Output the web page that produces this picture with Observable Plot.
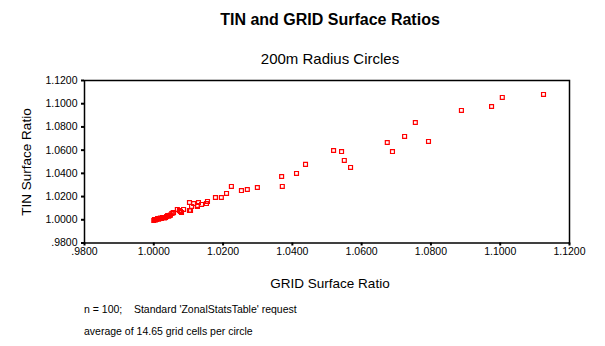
<!DOCTYPE html>
<html>
<head>
<meta charset="utf-8">
<script src="https://cdn.jsdelivr.net/npm/d3@7"></script>
<script src="https://cdn.jsdelivr.net/npm/@observablehq/plot@0.6"></script>
<style>
  html, body { margin: 0; padding: 0; background: #fff; overflow: hidden; }
  #wrap { position: relative; width: 605px; height: 346px; font-family: "Liberation Sans", Arial, sans-serif; color: #000; }
  #wrap svg { position: absolute; left: 0; top: 0; }
  .t { position: absolute; white-space: nowrap; line-height: 1; }
</style>
</head>
<body>
<div id="wrap">
  <div class="t" id="title" style="left:30px;width:600px;text-align:center;top:12px;font-size:16px;font-weight:bold;">TIN and GRID Surface Ratios</div>
  <div class="t" id="subtitle" style="left:30px;width:600px;text-align:center;top:51px;font-size:15px;">200m Radius Circles</div>
  <div class="t" id="xlabel" style="left:30px;width:600px;text-align:center;top:277px;font-size:13.5px;">GRID Surface Ratio</div>
  <div class="t" id="ylabel" style="left:27px;top:162px;font-size:13.5px;transform:translate(-50%,-50%) rotate(-90deg);">TIN Surface Ratio</div>
  <div class="t" id="note1" style="left:84px;top:304px;font-size:10.5px;">n = 100;&nbsp;&nbsp;&nbsp;&nbsp;Standard 'ZonalStatsTable' request</div>
  <div class="t" id="note2" style="left:84px;top:326px;font-size:10.5px;">average of 14.65 grid cells per circle</div>
</div>
<script>
// GRID surface ratio (x) and TIN surface ratio (y)
const gridRatio = [
  1.0000, 1.0002, 1.0005, 1.0008, 1.0011, 1.0014, 1.0017, 1.0019, 1.0022, 1.0025,
  1.0028, 1.0031, 1.0034, 1.0037, 1.0040, 1.0043, 1.0045, 1.0048, 1.0052, 1.0057,
  1.0055, 1.0068, 1.0074, 1.0077, 1.0080, 1.0086, 1.0103, 1.0106, 1.0103, 1.0109,
  1.0115, 1.0126, 1.0129, 1.0138, 1.0126, 1.0152, 1.0155, 1.0178, 1.0195, 1.0210,
  1.0224, 1.0253, 1.0270, 1.0299, 1.0369, 1.0371, 1.0412, 1.0438, 1.0519, 1.0542,
  1.0550, 1.0568, 1.0674, 1.0689, 1.0724, 1.0755, 1.0793, 1.0888, 1.0975, 1.1006,
  1.1125
];
const tinRatio = [
  0.9994, 1.0003, 0.9998, 1.0003, 1.0011, 1.0006, 1.0011, 1.0014, 1.0011, 1.0020,
  1.0020, 1.0016, 1.0020, 1.0028, 1.0037, 1.0031, 1.0037, 1.0040, 1.0054, 1.0063,
  1.0058, 1.0089, 1.0080, 1.0071, 1.0063, 1.0089, 1.0080, 1.0080, 1.0149, 1.0115,
  1.0140, 1.0123, 1.0149, 1.0132, 1.0115, 1.0140, 1.0158, 1.0192, 1.0192, 1.0227,
  1.0287, 1.0252, 1.0261, 1.0278, 1.0373, 1.0287, 1.0399, 1.0477, 1.0597, 1.0588,
  1.0511, 1.0451, 1.0666, 1.0588, 1.0718, 1.0838, 1.0675, 1.0942, 1.0976, 1.1054,
  1.1080
];
const xTicks = [0.98, 1.00, 1.02, 1.04, 1.06, 1.08, 1.10, 1.12];
const yTicks = [0.98, 1.00, 1.02, 1.04, 1.06, 1.08, 1.10, 1.12];

const points = gridRatio.map((g, i) => ({grid: g, tin: tinRatio[i]}));
const fmt = d => { const s = d3.format(".4f")(d); return s.startsWith("0.") ? s.slice(1) : s; };

const chart = Plot.plot({
  width: 605,
  height: 346,
  marginLeft: 84,
  marginRight: 36,
  marginTop: 80,
  marginBottom: 103.5,
  style: {fontFamily: "'Liberation Sans', Arial, sans-serif", fontSize: "10.5px", color: "#000", background: "transparent"},
  x: {domain: [0.98, 1.12]},
  y: {domain: [0.98, 1.12]},
  marks: [
    Plot.frame({stroke: "#000", strokeWidth: 1.5}),
    Plot.axisX({ticks: xTicks, tickFormat: fmt, tickSize: 3, tickPadding: 2, strokeWidth: 2, label: null, fill: "#000", stroke: "#000"}),
    Plot.axisY({ticks: yTicks, tickFormat: fmt, tickSize: 3, tickPadding: 4, strokeWidth: 2, label: null, fill: "#000", stroke: "#000"}),
    Plot.dot(points, {x: "grid", y: "tin", symbol: "square", r: 2.2, stroke: "#ff0000", fill: "none", strokeWidth: 1.2})
  ]
});
document.getElementById("wrap").prepend(chart);
</script>
</body>
</html>
